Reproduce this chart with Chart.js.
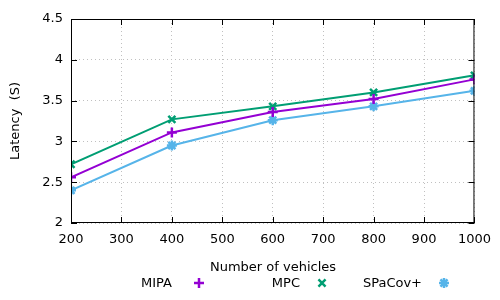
<!DOCTYPE html>
<html>
<head>
<meta charset="utf-8">
<script src="https://cdn.jsdelivr.net/npm/chart.js@4/dist/chart.umd.min.js"></script>
<style>
  html, body { margin: 0; padding: 0; background: #fff; }
  #wrap { width: 500px; height: 300px; position: relative; }
</style>
</head>
<body>
<div id="wrap"><canvas id="latency-chart"></canvas></div>
<script>
// vehicles on the x axis
var vehicles = [200, 400, 600, 800, 1000];
// latency (s) per method
var mipa = [2.56, 3.11, 3.36, 3.52, 3.76];
var mpc = [2.72, 3.27, 3.43, 3.60, 3.81];
var spacov = [2.40, 2.95, 3.26, 3.43, 3.62];

var xTicks = [200, 300, 400, 500, 600, 700, 800, 900, 1000];
var yTicks = [2, 2.5, 3, 3.5, 4, 4.5];

var FONT = '"DejaVu Sans", sans-serif';

function pts(arr) {
    return vehicles.map(function(v, i) { return {x: v, y: arr[i]}; });
}

var series = [
    {label: 'MIPA', data: mipa, color: '#9400d3', style: 'cross'},
    {label: 'MPC', data: mpc, color: '#009e73', style: 'crossRot'},
    {label: 'SPaCov+', data: spacov, color: '#56b4e9', style: 'star'}
];

// frame, inward ticks, titles and gnuplot style legend
var gnuplotExtras = {
    id: 'gnuplotExtras',
    afterDraw: function(chart) {
        var ctx = chart.ctx;
        var a = chart.chartArea;
        var xs = chart.scales.x, ys = chart.scales.y;
        ctx.save();
        ctx.strokeStyle = '#000';
        ctx.lineWidth = 1;
        ctx.strokeRect(a.left + 0.5, a.top + 0.5, a.right - a.left - 1, a.bottom - a.top - 1);
        ctx.beginPath();
        xTicks.forEach(function(t) {
            var px = Math.round(xs.getPixelForValue(t)) + 0.5;
            ctx.moveTo(px, a.bottom); ctx.lineTo(px, a.bottom - 6);
            ctx.moveTo(px, a.top); ctx.lineTo(px, a.top + 6);
        });
        yTicks.forEach(function(t) {
            var py = Math.round(ys.getPixelForValue(t)) + 0.5;
            ctx.moveTo(a.left, py); ctx.lineTo(a.left + 6, py);
            ctx.moveTo(a.right, py); ctx.lineTo(a.right - 6, py);
        });
        ctx.stroke();

        ctx.fillStyle = '#000';
        ctx.font = '13px ' + FONT;
        ctx.textAlign = 'center';
        ctx.textBaseline = 'middle';
        ctx.fillText('Number of vehicles', 273, 268);

        ctx.save();
        ctx.translate(16, (a.top + a.bottom) / 2);
        ctx.rotate(-Math.PI / 2);
        ctx.fillText('Latency  (S)', 0, 0);
        ctx.restore();

        var legendPos = [[172, 199], [300, 322], [422, 444]];
        ctx.textAlign = 'right';
        series.forEach(function(s, i) {
            ctx.fillStyle = '#000';
            ctx.fillText(s.label, legendPos[i][0], 284);
            ctx.strokeStyle = s.color;
            ctx.fillStyle = s.color;
            ctx.lineWidth = 2.5;
            Chart.helpers.drawPoint(ctx, {pointStyle: s.style, radius: 5, rotation: 0, borderWidth: 2.5}, legendPos[i][1], 283);
        });
        ctx.restore();
    }
};

new Chart(document.getElementById('latency-chart'), {
    type: 'line',
    data: {
        datasets: series.map(function(s) {
            return {
                label: s.label,
                data: pts(s.data),
                borderColor: s.color,
                backgroundColor: s.color,
                borderWidth: 2,
                pointStyle: s.style,
                pointRadius: 5,
                pointBorderWidth: 2.5,
                pointBorderColor: s.color,
                fill: false,
                tension: 0
            };
        })
    },
    options: {
        responsive: true,
        maintainAspectRatio: false,
        animation: false,
        layout: {padding: {top: 19, right: 25, left: 0, bottom: 0}},
        plugins: {
            legend: {display: false},
            tooltip: {enabled: false}
        },
        scales: {
            x: {
                type: 'linear',
                min: 200, max: 1000,
                afterBuildTicks: function(s) { s.ticks = xTicks.map(function(v) { return {value: v}; }); },
                afterFit: function(s) { s.height = 77; },
                ticks: {
                    color: '#000', font: {family: FONT, size: 13}, padding: 9, maxRotation: 0,
                    callback: function(v) { return String(v); }
                },
                grid: {color: '#c0c0c0', drawTicks: false},
                border: {display: false, dash: [1, 3]}
            },
            y: {
                min: 2, max: 4.5,
                afterBuildTicks: function(s) { s.ticks = yTicks.map(function(v) { return {value: v}; }); },
                afterFit: function(s) { s.width = 71; },
                ticks: {
                    color: '#000', font: {family: FONT, size: 13}, padding: 8,
                    callback: function(v) { return String(v); }
                },
                grid: {color: '#c0c0c0', drawTicks: false},
                border: {display: false, dash: [1, 3]}
            }
        }
    },
    plugins: [gnuplotExtras]
});
</script>
</body>
</html>
